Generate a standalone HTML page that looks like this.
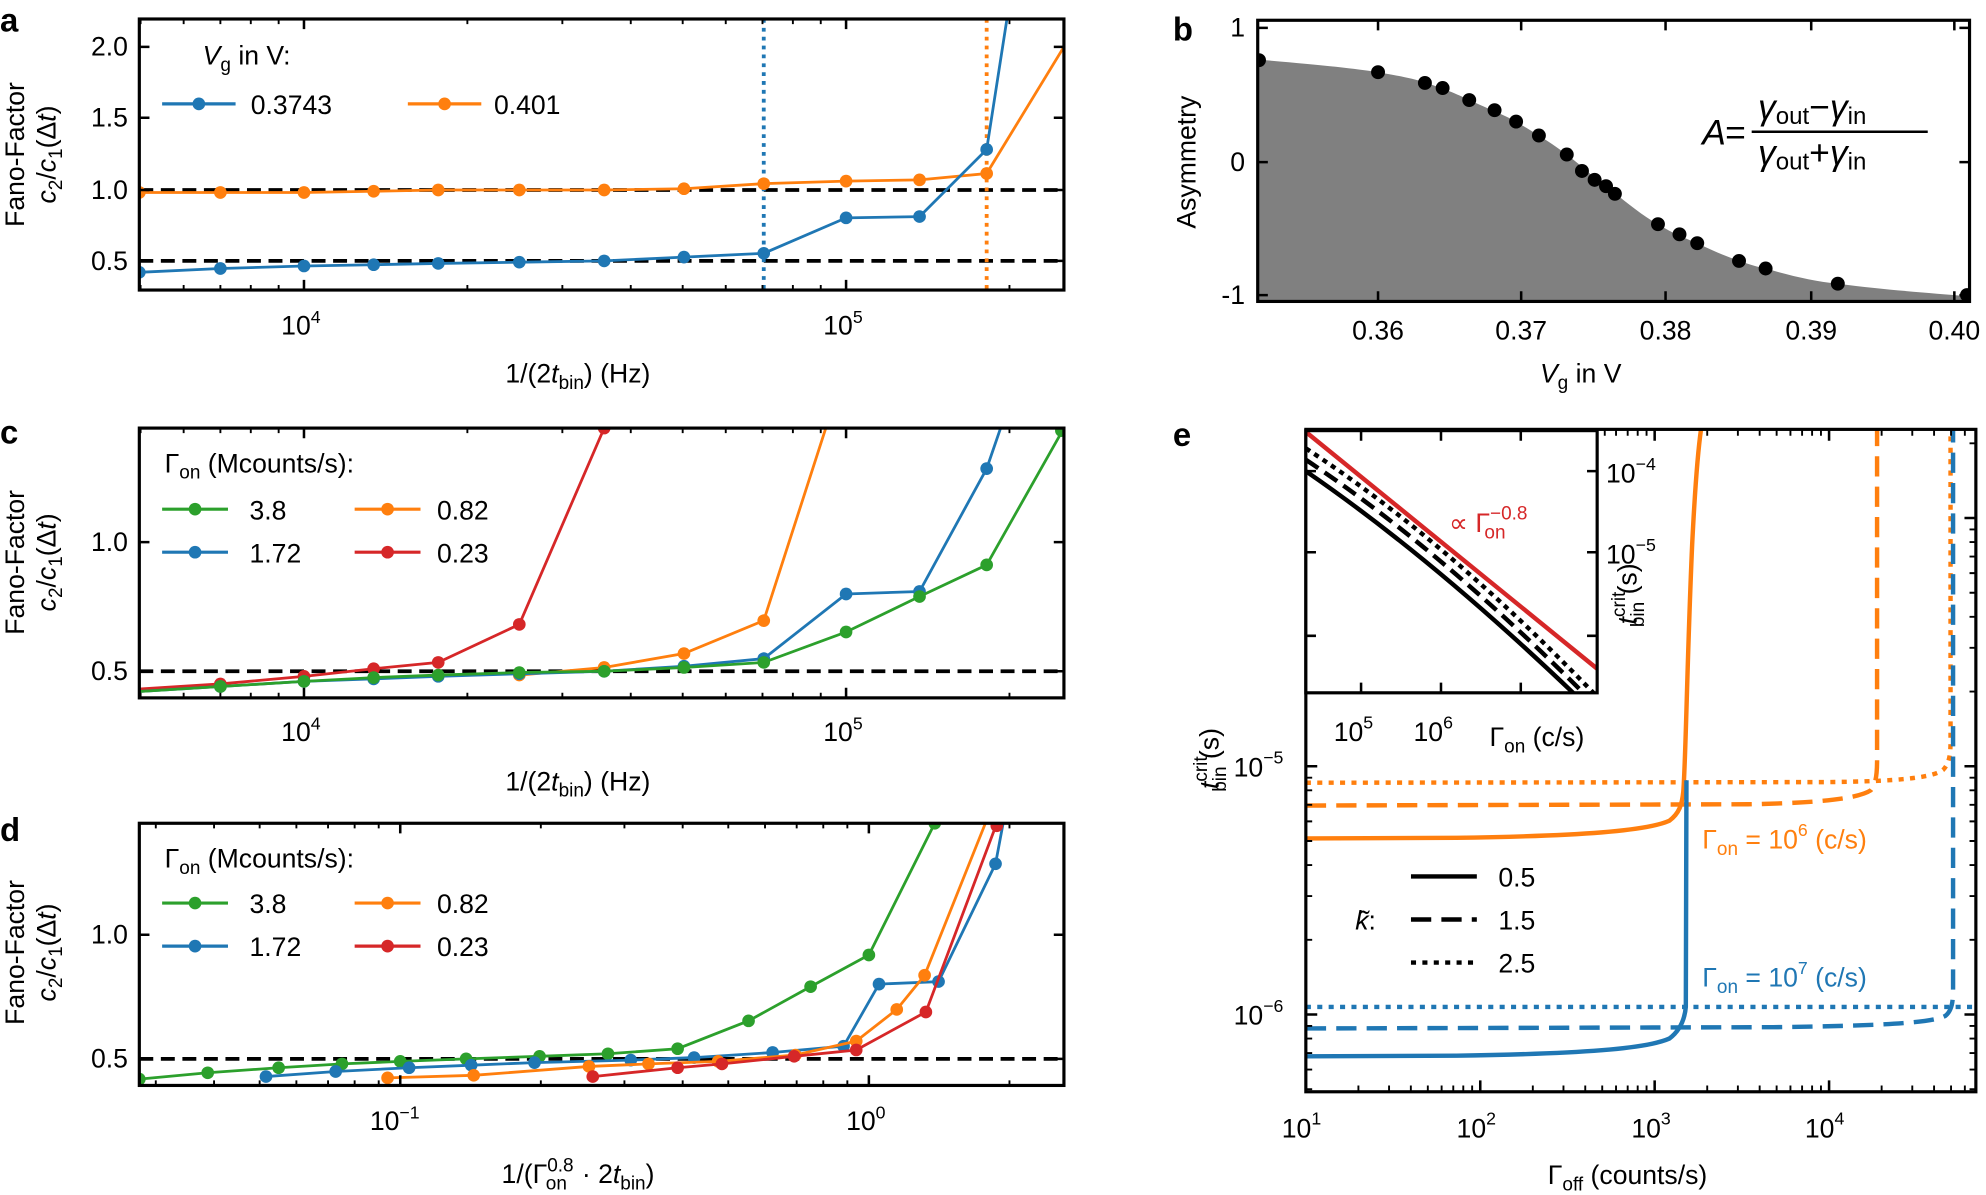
<!DOCTYPE html>
<html><head><meta charset="utf-8"><style>
html,body{margin:0;padding:0;background:#fff}
svg{display:block}
text{font-family:"Liberation Sans",sans-serif;fill:#000}
.t{font-size:21px}
.dv{font-family:"DejaVu Sans","Liberation Sans",sans-serif}
</style></head><body>
<svg width="1986" height="1195" viewBox="0 0 1568 943.5" preserveAspectRatio="none" xmlns="http://www.w3.org/2000/svg">
<defs>
<clipPath id="ca"><rect x="110" y="15" width="730" height="214"/></clipPath>
<clipPath id="cb"><rect x="993" y="16" width="562" height="222"/></clipPath>
<clipPath id="cc"><rect x="110" y="338" width="730" height="213"/></clipPath>
<clipPath id="cd"><rect x="110" y="650" width="730" height="207"/></clipPath>
<clipPath id="ce"><rect x="1031" y="339" width="529" height="523"/></clipPath>
<clipPath id="ci"><rect x="1031" y="340" width="230" height="207"/></clipPath>
</defs>

<!-- ============ Panel a ============ -->
<text x="0" y="25" style="font-size:26px;font-weight:bold">a</text>
<g clip-path="url(#ca)">
<line x1="110" y1="150" x2="840" y2="150" stroke="#000" stroke-width="3" stroke-dasharray="11,6"/>
<line x1="110" y1="206" x2="840" y2="206" stroke="#000" stroke-width="3" stroke-dasharray="11,6"/>
<line x1="603" y1="15" x2="603" y2="229" stroke="#1f77b4" stroke-width="3" stroke-dasharray="3,4"/>
<line x1="779" y1="15" x2="779" y2="229" stroke="#ff7f0e" stroke-width="3" stroke-dasharray="3,4"/>
<polyline fill="none" stroke="#ff7f0e" stroke-width="2.2" points="110,152 174,152 240,152 295,151 346,150 410,150 477,150 540,149 603,145 668,143 726,142 779,137 840,37"/>
<g fill="#ff7f0e"><circle cx="110" cy="152" r="5"/><circle cx="174" cy="152" r="5"/><circle cx="240" cy="152" r="5"/><circle cx="295" cy="151" r="5"/><circle cx="346" cy="150" r="5"/><circle cx="410" cy="150" r="5"/><circle cx="477" cy="150" r="5"/><circle cx="540" cy="149" r="5"/><circle cx="603" cy="145" r="5"/><circle cx="668" cy="143" r="5"/><circle cx="726" cy="142" r="5"/><circle cx="779" cy="137" r="5"/></g>
<polyline fill="none" stroke="#1f77b4" stroke-width="2.2" points="110,215 174,212 240,210 295,209 346,208 410,207 477,206 540,203 603,200 668,172 726,171 779,118 795,15"/>
<g fill="#1f77b4"><circle cx="110" cy="215" r="5"/><circle cx="174" cy="212" r="5"/><circle cx="240" cy="210" r="5"/><circle cx="295" cy="209" r="5"/><circle cx="346" cy="208" r="5"/><circle cx="410" cy="207" r="5"/><circle cx="477" cy="206" r="5"/><circle cx="540" cy="203" r="5"/><circle cx="603" cy="200" r="5"/><circle cx="668" cy="172" r="5"/><circle cx="726" cy="171" r="5"/><circle cx="779" cy="118" r="5"/></g>
</g>
<rect x="110" y="15" width="730" height="214" fill="none" stroke="#000" stroke-width="2.5"/>
<g stroke="#000" stroke-width="1.5">
<path d="M240,229v-8M668,229v-8M240,15v8M668,15v8" stroke-width="2"/>
<path d="M111,229v-4M145,229v-4M174,229v-4M198,229v-4M220,229v-4M369,229v-4M444,229v-4M498,229v-4M539,229v-4M573,229v-4M602,229v-4M626,229v-4M648,229v-4M797,229v-4"/>
<path d="M111,15v4M145,15v4M174,15v4M198,15v4M220,15v4M369,15v4M444,15v4M498,15v4M539,15v4M573,15v4M602,15v4M626,15v4M648,15v4M797,15v4"/>
<path d="M110,37h8M110,93h8M110,150h8M110,206h8M840,37h-8M840,93h-8M840,150h-8M840,206h-8" stroke-width="2"/>
</g>
<g class="t" text-anchor="end"><text x="101" y="44">2.0</text><text x="101" y="100">1.5</text><text x="101" y="157">1.0</text><text x="101" y="213">0.5</text></g>
<text x="222" y="264" class="t">10<tspan dy="-9" font-size="14">4</tspan></text>
<text x="650" y="264" class="t">10<tspan dy="-9" font-size="14">5</tspan></text>
<text x="399" y="302" class="t">1/(2<tspan font-style="italic">t</tspan><tspan font-size="15" dy="5">bin</tspan><tspan dy="-5">) (Hz)</tspan></text>
<text transform="translate(19,122) rotate(-90)" text-anchor="middle" class="t">Fano-Factor</text>
<text transform="translate(44,122) rotate(-90)" text-anchor="middle" class="t"><tspan font-style="italic">c</tspan><tspan font-size="15" dy="5">2</tspan><tspan dy="-5">/</tspan><tspan font-style="italic">c</tspan><tspan font-size="15" dy="5">1</tspan><tspan dy="-5">(Δ</tspan><tspan font-style="italic">t</tspan>)</text>
<text x="160" y="51" class="t"><tspan font-style="italic">V</tspan><tspan font-size="15" dy="5">g</tspan><tspan dy="-5"> in V:</tspan></text>
<line x1="128" y1="82" x2="186" y2="82" stroke="#1f77b4" stroke-width="2.5"/><circle cx="157" cy="82" r="5" fill="#1f77b4"/>
<text x="198" y="90" class="t">0.3743</text>
<line x1="322" y1="82" x2="380" y2="82" stroke="#ff7f0e" stroke-width="2.5"/><circle cx="351" cy="82" r="5" fill="#ff7f0e"/>
<text x="390" y="90" class="t">0.401</text>

<!-- ============ Panel b ============ -->
<text x="926" y="32" style="font-size:26px;font-weight:bold">b</text>
<g clip-path="url(#cb)">
<path fill="#808080" d="M993,47 C1040,51 1070,54 1088,57 C1105,60 1115,62 1125,65 C1140,70 1150,74 1160,79 C1175,86 1186,90 1197,96 C1212,105 1225,113 1237,122 C1250,132 1258,140 1268,147 C1282,158 1296,170 1309,177 C1320,184 1330,188 1340,192 C1352,198 1362,202 1373,206 C1382,209 1388,211 1394,212 C1415,218 1432,222 1451,224 C1490,229 1520,231 1555,234 L1555,238 L993,238 Z"/>
<g fill="#000">
<circle cx="994" cy="47.5" r="5.5"/><circle cx="1088" cy="57" r="5.5"/><circle cx="1125" cy="65.5" r="5.5"/><circle cx="1139" cy="69.5" r="5.5"/><circle cx="1160" cy="79" r="5.5"/><circle cx="1180" cy="87" r="5.5"/><circle cx="1197" cy="96" r="5.5"/><circle cx="1215" cy="107" r="5.5"/><circle cx="1237" cy="122" r="5.5"/><circle cx="1249" cy="135" r="5.5"/><circle cx="1259" cy="142" r="5.5"/><circle cx="1268" cy="147" r="5.5"/><circle cx="1275" cy="153" r="5.5"/><circle cx="1309" cy="177" r="5.5"/><circle cx="1326" cy="185" r="5.5"/><circle cx="1340" cy="192" r="5.5"/><circle cx="1373" cy="206" r="5.5"/><circle cx="1394" cy="212" r="5.5"/><circle cx="1451" cy="224" r="5.5"/><circle cx="1553" cy="233" r="5.5"/>
</g>
</g>
<rect x="993" y="16" width="562" height="222" fill="none" stroke="#000" stroke-width="2.5"/>
<g stroke="#000" stroke-width="2">
<path d="M1088,238v-8M1201,238v-8M1315,238v-8M1430,238v-8M1543,238v-8M1088,16v8M1201,16v8M1315,16v8M1430,16v8M1543,16v8"/>
<path d="M993,22h8M993,128h8M993,233h8M1555,22h-8M1555,128h-8M1555,233h-8"/>
</g>
<g class="t" text-anchor="end"><text x="983" y="29">1</text><text x="983" y="135">0</text><text x="983" y="240">-1</text></g>
<g class="t" text-anchor="middle"><text x="1088" y="268">0.36</text><text x="1201" y="268">0.37</text><text x="1315" y="268">0.38</text><text x="1430" y="268">0.39</text><text x="1543" y="268">0.40</text></g>
<text x="1248" y="302" class="t" text-anchor="middle"><tspan font-style="italic">V</tspan><tspan font-size="15" dy="5">g</tspan><tspan dy="-5"> in V</tspan></text>
<text transform="translate(944,128) rotate(-90)" text-anchor="middle" class="t">Asymmetry</text>
<g style="font-size:28px">
<text x="1344" y="114" font-style="italic">A</text><text x="1362" y="114">=</text>
<line x1="1383" y1="104" x2="1522" y2="104" stroke="#000" stroke-width="2"/>
<text x="1388" y="94"><tspan font-style="italic">γ</tspan><tspan font-size="19" dy="4">out</tspan><tspan dy="-4">−</tspan><tspan font-style="italic">γ</tspan><tspan font-size="19" dy="4">in</tspan></text>
<text x="1388" y="130"><tspan font-style="italic">γ</tspan><tspan font-size="19" dy="4">out</tspan><tspan dy="-4">+</tspan><tspan font-style="italic">γ</tspan><tspan font-size="19" dy="4">in</tspan></text>
</g>

<!-- ============ Panel c ============ -->
<text x="0" y="350" style="font-size:26px;font-weight:bold">c</text>
<g clip-path="url(#cc)">
<line x1="110" y1="530" x2="840" y2="530" stroke="#000" stroke-width="3" stroke-dasharray="11,6"/>
<polyline fill="none" stroke="#d62728" stroke-width="2.2" points="110,544 174,540 240,534 295,528 346,523 410,493 477,338"/>
<g fill="#d62728"><circle cx="174" cy="540" r="5"/><circle cx="240" cy="534" r="5"/><circle cx="295" cy="528" r="5"/><circle cx="346" cy="523" r="5"/><circle cx="410" cy="493" r="5"/><circle cx="477" cy="338" r="5"/></g>
<polyline fill="none" stroke="#ff7f0e" stroke-width="2.2" points="410,533 477,527 540,516 603,490 652,338"/>
<g fill="#ff7f0e"><circle cx="410" cy="533" r="5"/><circle cx="477" cy="527" r="5"/><circle cx="540" cy="516" r="5"/><circle cx="603" cy="490" r="5"/></g>
<polyline fill="none" stroke="#1f77b4" stroke-width="2.2" points="110,546 174,542 240,538 295,536 346,534 410,532 477,530 540,526 603,520 668,469 726,467 779,370 790,338"/>
<g fill="#1f77b4"><circle cx="174" cy="542" r="5"/><circle cx="240" cy="538" r="5"/><circle cx="295" cy="536" r="5"/><circle cx="346" cy="534" r="5"/><circle cx="410" cy="532" r="5"/><circle cx="477" cy="530" r="5"/><circle cx="540" cy="526" r="5"/><circle cx="603" cy="520" r="5"/><circle cx="668" cy="469" r="5"/><circle cx="726" cy="467" r="5"/><circle cx="779" cy="370" r="5"/></g>
<polyline fill="none" stroke="#2ca02c" stroke-width="2.2" points="110,546 174,542 240,538 295,535 346,533 410,531 477,530 540,527 603,523 668,499 726,471 779,446 840,338"/>
<g fill="#2ca02c"><circle cx="174" cy="542" r="5"/><circle cx="240" cy="538" r="5"/><circle cx="295" cy="535" r="5"/><circle cx="346" cy="533" r="5"/><circle cx="410" cy="531" r="5"/><circle cx="477" cy="530" r="5"/><circle cx="540" cy="527" r="5"/><circle cx="603" cy="523" r="5"/><circle cx="668" cy="499" r="5"/><circle cx="726" cy="471" r="5"/><circle cx="779" cy="446" r="5"/><circle cx="838" cy="340" r="5"/></g>
</g>
<rect x="110" y="338" width="730" height="213" fill="none" stroke="#000" stroke-width="2.5"/>
<g stroke="#000" stroke-width="1.5">
<path d="M240,551v-8M668,551v-8M240,338v8M668,338v8" stroke-width="2"/>
<path d="M111,551v-4M145,551v-4M174,551v-4M198,551v-4M220,551v-4M369,551v-4M444,551v-4M498,551v-4M539,551v-4M573,551v-4M602,551v-4M626,551v-4M648,551v-4M797,551v-4"/>
<path d="M111,338v4M145,338v4M174,338v4M198,338v4M220,338v4M369,338v4M444,338v4M498,338v4M539,338v4M573,338v4M602,338v4M626,338v4M648,338v4M797,338v4"/>
<path d="M110,428h8M110,530h8M840,428h-8M840,530h-8" stroke-width="2"/>
</g>
<g class="t" text-anchor="end"><text x="101" y="435">1.0</text><text x="101" y="537">0.5</text></g>
<text x="222" y="585" class="t">10<tspan dy="-9" font-size="14">4</tspan></text>
<text x="650" y="585" class="t">10<tspan dy="-9" font-size="14">5</tspan></text>
<text x="399" y="624" class="t">1/(2<tspan font-style="italic">t</tspan><tspan font-size="15" dy="5">bin</tspan><tspan dy="-5">) (Hz)</tspan></text>
<text transform="translate(19,444) rotate(-90)" text-anchor="middle" class="t">Fano-Factor</text>
<text transform="translate(44,444) rotate(-90)" text-anchor="middle" class="t"><tspan font-style="italic">c</tspan><tspan font-size="15" dy="5">2</tspan><tspan dy="-5">/</tspan><tspan font-style="italic">c</tspan><tspan font-size="15" dy="5">1</tspan><tspan dy="-5">(Δ</tspan><tspan font-style="italic">t</tspan>)</text>
<text x="130" y="373" class="t">Γ<tspan font-size="15" dy="5">on</tspan><tspan dy="-5"> (Mcounts/s):</tspan></text>
<line x1="128" y1="402" x2="180" y2="402" stroke="#2ca02c" stroke-width="2.5"/><circle cx="154" cy="402" r="5" fill="#2ca02c"/><text x="197" y="410" class="t">3.8</text>
<line x1="280" y1="402" x2="332" y2="402" stroke="#ff7f0e" stroke-width="2.5"/><circle cx="306" cy="402" r="5" fill="#ff7f0e"/><text x="345" y="410" class="t">0.82</text>
<line x1="128" y1="436" x2="180" y2="436" stroke="#1f77b4" stroke-width="2.5"/><circle cx="154" cy="436" r="5" fill="#1f77b4"/><text x="197" y="444" class="t">1.72</text>
<line x1="280" y1="436" x2="332" y2="436" stroke="#d62728" stroke-width="2.5"/><circle cx="306" cy="436" r="5" fill="#d62728"/><text x="345" y="444" class="t">0.23</text>

<!-- ============ Panel d ============ -->
<text x="0" y="664" style="font-size:26px;font-weight:bold">d</text>
<g clip-path="url(#cd)">
<line x1="110" y1="836" x2="840" y2="836" stroke="#000" stroke-width="3" stroke-dasharray="11,6"/>
<polyline fill="none" stroke="#2ca02c" stroke-width="2.2" points="110,852 164,847 220,843 270,840 316,838 368,836 426,834 480,832 535,828 591,806 640,779 686,754 738,650"/>
<g fill="#2ca02c"><circle cx="110" cy="852" r="5"/><circle cx="164" cy="847" r="5"/><circle cx="220" cy="843" r="5"/><circle cx="270" cy="840" r="5"/><circle cx="316" cy="838" r="5"/><circle cx="368" cy="836" r="5"/><circle cx="426" cy="834" r="5"/><circle cx="480" cy="832" r="5"/><circle cx="535" cy="828" r="5"/><circle cx="591" cy="806" r="5"/><circle cx="640" cy="779" r="5"/><circle cx="686" cy="754" r="5"/><circle cx="738" cy="650" r="5"/></g>
<polyline fill="none" stroke="#1f77b4" stroke-width="2.2" points="210,850 265,846 323,843 372,841 422,839 498,837 548,835 610,831 666,826 694,777 741,775 786,682 792,650"/>
<g fill="#1f77b4"><circle cx="210" cy="850" r="5"/><circle cx="265" cy="846" r="5"/><circle cx="323" cy="843" r="5"/><circle cx="372" cy="841" r="5"/><circle cx="422" cy="839" r="5"/><circle cx="498" cy="837" r="5"/><circle cx="548" cy="835" r="5"/><circle cx="610" cy="831" r="5"/><circle cx="666" cy="826" r="5"/><circle cx="694" cy="777" r="5"/><circle cx="741" cy="775" r="5"/><circle cx="786" cy="682" r="5"/></g>
<polyline fill="none" stroke="#ff7f0e" stroke-width="2.2" points="306,851 374,849 465,842 512,840 567,838 628,833 676,822 708,797 730,770 778,650"/>
<g fill="#ff7f0e"><circle cx="306" cy="851" r="5"/><circle cx="374" cy="849" r="5"/><circle cx="465" cy="842" r="5"/><circle cx="512" cy="840" r="5"/><circle cx="567" cy="838" r="5"/><circle cx="628" cy="833" r="5"/><circle cx="676" cy="822" r="5"/><circle cx="708" cy="797" r="5"/><circle cx="730" cy="770" r="5"/></g>
<polyline fill="none" stroke="#d62728" stroke-width="2.2" points="468,850 535,843 570,840 627,834 676,829 731,799 787,650"/>
<g fill="#d62728"><circle cx="468" cy="850" r="5"/><circle cx="535" cy="843" r="5"/><circle cx="570" cy="840" r="5"/><circle cx="627" cy="834" r="5"/><circle cx="676" cy="829" r="5"/><circle cx="731" cy="799" r="5"/><circle cx="787" cy="652" r="5"/></g>
</g>
<rect x="110" y="650" width="730" height="207" fill="none" stroke="#000" stroke-width="2.5"/>
<g stroke="#000" stroke-width="1.5">
<path d="M316,857v-8M686,857v-8M316,650v8M686,650v8" stroke-width="2"/>
<path d="M123,857v-4M169,857v-4M205,857v-4M234,857v-4M259,857v-4M280,857v-4M299,857v-4M427,857v-4M493,857v-4M539,857v-4M575,857v-4M604,857v-4M629,857v-4M650,857v-4M669,857v-4M797,857v-4"/>
<path d="M123,650v4M169,650v4M205,650v4M234,650v4M259,650v4M280,650v4M299,650v4M427,650v4M493,650v4M539,650v4M575,650v4M604,650v4M629,650v4M650,650v4M669,650v4M797,650v4"/>
<path d="M110,738h8M110,836h8M840,738h-8M840,836h-8" stroke-width="2"/>
</g>
<g class="t" text-anchor="end"><text x="101" y="745">1.0</text><text x="101" y="843">0.5</text></g>
<text x="292" y="892" class="t">10<tspan dy="-9" font-size="14">−1</tspan></text>
<text x="668" y="892" class="t">10<tspan dy="-9" font-size="14">0</tspan></text>
<text x="396" y="934" class="t">1/(Γ<tspan font-size="15" dy="-9">0.8</tspan><tspan font-size="15" dx="-22" dy="14">on</tspan><tspan dy="-5" dx="6"> · 2</tspan><tspan font-style="italic">t</tspan><tspan font-size="15" dy="5">bin</tspan><tspan dy="-5">)</tspan></text>
<text transform="translate(19,752) rotate(-90)" text-anchor="middle" class="t">Fano-Factor</text>
<text transform="translate(44,752) rotate(-90)" text-anchor="middle" class="t"><tspan font-style="italic">c</tspan><tspan font-size="15" dy="5">2</tspan><tspan dy="-5">/</tspan><tspan font-style="italic">c</tspan><tspan font-size="15" dy="5">1</tspan><tspan dy="-5">(Δ</tspan><tspan font-style="italic">t</tspan>)</text>
<text x="130" y="685" class="t">Γ<tspan font-size="15" dy="5">on</tspan><tspan dy="-5"> (Mcounts/s):</tspan></text>
<line x1="128" y1="713" x2="180" y2="713" stroke="#2ca02c" stroke-width="2.5"/><circle cx="154" cy="713" r="5" fill="#2ca02c"/><text x="197" y="721" class="t">3.8</text>
<line x1="280" y1="713" x2="332" y2="713" stroke="#ff7f0e" stroke-width="2.5"/><circle cx="306" cy="713" r="5" fill="#ff7f0e"/><text x="345" y="721" class="t">0.82</text>
<line x1="128" y1="747" x2="180" y2="747" stroke="#1f77b4" stroke-width="2.5"/><circle cx="154" cy="747" r="5" fill="#1f77b4"/><text x="197" y="755" class="t">1.72</text>
<line x1="280" y1="747" x2="332" y2="747" stroke="#d62728" stroke-width="2.5"/><circle cx="306" cy="747" r="5" fill="#d62728"/><text x="345" y="755" class="t">0.23</text>

<!-- ============ Panel e ============ -->
<text x="926" y="352" style="font-size:26px;font-weight:bold">e</text>
<g clip-path="url(#ce)" fill="none" stroke-width="3.5">
<path d="M1031,662 L1150,661.5 C1250,660 1300,656 1318,648 C1326,642 1328,635 1329,625 C1331,600 1332,520 1336,430 C1338,390 1340,360 1343,339" stroke="#ff7f0e"/>
<path d="M1031,636 L1380,635 C1440,634 1468,630 1477,624 C1481,619 1482,612 1482,600 L1482,339" stroke="#ff7f0e" stroke-dasharray="16,8"/>
<path d="M1031,618 L1440,617.5 C1500,617 1525,614 1534,608 C1539,603 1540,596 1540,585 L1540,339" stroke="#ff7f0e" stroke-dasharray="4,5"/>
<path d="M1031,834 L1150,833.5 C1250,832 1300,828 1318,820 C1326,814 1330,806 1331,795 L1331.5,616" stroke="#1f77b4"/>
<path d="M1031,812 L1400,811 C1480,810 1525,808 1536,802 C1541,798 1542,792 1542,780 L1542,339" stroke="#1f77b4" stroke-dasharray="16,8"/>
<path d="M1031,795 L1560,795" stroke="#1f77b4" stroke-dasharray="4,5"/>
</g>
<rect x="1031" y="339" width="529" height="523" fill="none" stroke="#000" stroke-width="2.5"/>
<g stroke="#000" stroke-width="1.5">
<path d="M1168.7,862v-9M1306.4,862v-9M1444.1,862v-9M1168.7,339v9M1306.4,339v9M1444.1,339v9" stroke-width="2"/>
<path d="M1072.5,862v-5M1096.7,862v-5M1113.9,862v-5M1127.3,862v-5M1138.2,862v-5M1147.4,862v-5M1155.3,862v-5M1162.3,862v-5M1210.2,862v-5M1234.4,862v-5M1251.6,862v-5M1265,862v-5M1275.9,862v-5M1285.1,862v-5M1293,862v-5M1300,862v-5M1347.9,862v-5M1372.1,862v-5M1389.3,862v-5M1402.7,862v-5M1413.6,862v-5M1422.8,862v-5M1430.7,862v-5M1437.7,862v-5M1485.6,862v-5M1509.8,862v-5M1527,862v-5M1540.4,862v-5M1551.3,862v-5"/>
<path d="M1267,339v5M1275.9,339v5M1285.1,339v5M1293,339v5M1300,339v5M1347.9,339v5M1372.1,339v5M1389.3,339v5M1402.7,339v5M1413.6,339v5M1422.8,339v5M1430.7,339v5M1437.7,339v5M1485.6,339v5M1509.8,339v5M1527,339v5M1540.4,339v5M1551.3,339v5"/>
<path d="M1031,605h9M1031,801h9M1560,409h-9M1560,605h-9M1560,801h-9" stroke-width="2"/>
<path d="M1031,742h5M1031,707.5h5M1031,683h5M1031,664h5M1031,648.5h5M1031,635.4h5M1031,624h5M1031,614h5M1031,810h5M1031,820h5M1031,831.4h5M1031,844.5h5M1031,860h5"/>
<path d="M1560,742h-5M1560,707.5h-5M1560,683h-5M1560,664h-5M1560,648.5h-5M1560,635.4h-5M1560,624h-5M1560,614h-5M1560,546h-5M1560,511.5h-5M1560,487h-5M1560,468h-5M1560,452.5h-5M1560,439.4h-5M1560,428h-5M1560,418h-5M1560,350h-5M1560,810h-5M1560,820h-5M1560,831.4h-5M1560,844.5h-5M1560,860h-5"/>
</g>
<g class="dv" style="font-size:21px">
<text x="1012" y="898">10<tspan dy="-10" font-size="14">1</tspan></text>
<text x="1150" y="898">10<tspan dy="-10" font-size="14">2</tspan></text>
<text x="1288" y="898">10<tspan dy="-10" font-size="14">3</tspan></text>
<text x="1425" y="898">10<tspan dy="-10" font-size="14">4</tspan></text>
<text x="974" y="613">10<tspan dy="-10" font-size="14">−5</tspan></text>
<text x="974" y="809">10<tspan dy="-10" font-size="14">−6</tspan></text>
<text x="1222" y="935">Γ<tspan font-size="15" dy="5">off</tspan><tspan dy="-5"> (counts/s)</tspan></text>
<text transform="translate(962,600) rotate(-90)" text-anchor="middle"><tspan font-style="italic">t</tspan><tspan font-size="15" dy="-9">crit</tspan><tspan font-size="15" dx="-28" dy="15">bin</tspan><tspan dy="-6"> (s)</tspan></text>
<!-- legend -->
<line x1="1114" y1="692" x2="1166" y2="692" stroke="#000" stroke-width="3.5"/>
<line x1="1114" y1="726" x2="1166" y2="726" stroke="#000" stroke-width="3.5" stroke-dasharray="16,8"/>
<line x1="1114" y1="760" x2="1166" y2="760" stroke="#000" stroke-width="3.5" stroke-dasharray="4,5"/>
<text x="1183" y="700">0.5</text><text x="1183" y="734">1.5</text><text x="1183" y="768">2.5</text>
<text x="1070" y="734" font-style="italic">k̃<tspan font-style="normal">:</tspan></text>
<text x="1344" y="670" style="fill:#ff7f0e">Γ<tspan font-size="15" dy="5">on</tspan><tspan dy="-5"> = 10</tspan><tspan font-size="14" dy="-10">6</tspan><tspan dy="10"> (c/s)</tspan></text>
<text x="1344" y="779" style="fill:#1f77b4">Γ<tspan font-size="15" dy="5">on</tspan><tspan dy="-5"> = 10</tspan><tspan font-size="14" dy="-10">7</tspan><tspan dy="10"> (c/s)</tspan></text>
</g>
<!-- inset -->
<rect x="1031" y="340" width="230" height="207" fill="#fff"/>
<g clip-path="url(#ci)" fill="none" stroke-width="3.5">
<path d="M1031,341 L1261,528" stroke="#d62728"/>
<path d="M1031,372 Q1130,440 1242,547" stroke="#000"/>
<path d="M1031,363 Q1135,432 1250,547" stroke="#000" stroke-dasharray="12,6"/>
<path d="M1031,354 Q1140,425 1258,547" stroke="#000" stroke-dasharray="4,4"/>
</g>
<rect x="1031" y="340" width="230" height="207" fill="none" stroke="#000" stroke-width="2.5"/>
<g stroke="#000" stroke-width="2">
<path d="M1074.6,547v-8M1137.7,547v-8M1200.7,547v-8M1074.6,340v8M1137.7,340v8M1200.7,340v8"/>
<path d="M1261,372h-8M1261,436h-8M1261,502h-8M1031,372h8M1031,436h8M1031,502h8"/>
</g>
<g class="dv" style="font-size:21px">
<text x="1053" y="585">10<tspan dy="-10" font-size="14">5</tspan></text>
<text x="1116" y="585">10<tspan dy="-10" font-size="14">6</tspan></text>
<text x="1176" y="589">Γ<tspan font-size="15" dy="5">on</tspan><tspan dy="-5"> (c/s)</tspan></text>
<text x="1268" y="381">10<tspan dy="-10" font-size="14">−4</tspan></text>
<text x="1268" y="445">10<tspan dy="-10" font-size="14">−5</tspan></text>
<text transform="translate(1292,470) rotate(-90)" text-anchor="middle"><tspan font-style="italic">t</tspan><tspan font-size="15" dy="-9">crit</tspan><tspan font-size="15" dx="-28" dy="15">bin</tspan><tspan dy="-6"> (s)</tspan></text>
<text x="1144" y="420" style="fill:#d62728">∝ Γ<tspan font-size="15" dy="-10">−0.8</tspan><tspan font-size="15" dx="-34" dy="15">on</tspan></text>
</g>
</svg>
</body></html>
